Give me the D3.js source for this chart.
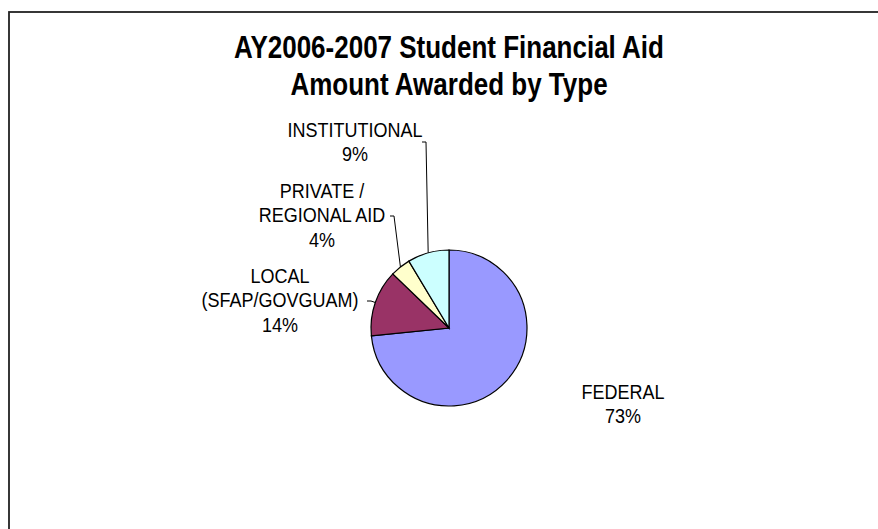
<!DOCTYPE html>
<html>
<head>
<meta charset="utf-8">
<script src="https://cdn.jsdelivr.net/npm/d3@7"></script>
<style>
  body { margin: 0; background: #fff; }
  svg { display: block; font-family: "Liberation Sans", Arial, sans-serif; }
</style>
</head>
<body>
<svg id="chart"></svg>
<script>
// --- data ---
const categories = ["FEDERAL", "LOCAL (SFAP/GOVGUAM)", "PRIVATE / REGIONAL AID", "INSTITUTIONAL"];
const labelLines = [["FEDERAL"], ["LOCAL", "(SFAP/GOVGUAM)"], ["PRIVATE /", "REGIONAL AID"], ["INSTITUTIONAL"]];
const shares = [73.4, 13.8, 4.2, 8.6];
const colors = ["#9999ff", "#993366", "#ffffcc", "#ccffff"];
const titleLines = ["AY2006-2007 Student Financial Aid", "Amount Awarded by Type"];

// --- layout ---
const width = 878, height = 529;
const cx = 449, cy = 328, radius = 78;
const lineGap = 24.5;
const textStretch = 1.1;   // the source font renders a bit taller than Arial
// label anchor (centre x, first baseline) relative to pie centre
const labelPos = [[174, 71], [-169, -45], [-127, -130], [-94, -191]];
// leader elbow relative to pie centre (null = no leader)
const elbows = [null, [-78, -27], [-55, -112], [-23, -186]];

const svg = d3.select("#chart").attr("width", width).attr("height", height);

// chart frame
svg.append("rect")
    .attr("x", 9).attr("y", 12)
    .attr("width", width + 20).attr("height", height + 20)
    .attr("fill", "#fff")
    .attr("stroke", "#222")
    .attr("stroke-width", 1.8);

// title
const title = svg.append("text")
    .attr("text-anchor", "middle")
    .attr("font-size", 26)
    .attr("font-weight", "bold")
    .attr("transform", "translate(449,58) scale(1,1.2)");
titleLines.forEach((s, k) => {
    title.append("tspan").attr("x", 0).attr("y", k * 37 / 1.2).text(s);
});

const pie = d3.pie().sort(null).value(d => d);
const arcs = pie(shares);
const arc = d3.arc().innerRadius(0).outerRadius(radius);

const g = svg.append("g").attr("transform", `translate(${cx},${cy})`);

g.selectAll("path.slice")
    .data(arcs)
    .enter()
    .append("path")
    .attr("class", "slice")
    .attr("d", arc)
    .attr("fill", (d, i) => colors[i])
    .attr("stroke", "#000")
    .attr("stroke-width", 1.2);

// leader lines
g.selectAll("path.leader")
    .data(arcs.filter((d, i) => elbows[i]))
    .enter()
    .append("path")
    .attr("class", "leader")
    .attr("fill", "none")
    .attr("stroke", "#000")
    .attr("stroke-width", 1)
    .attr("d", d => {
        const e = elbows[d.index];
        const mid = (d.startAngle + d.endAngle) / 2;
        const px = radius * Math.sin(mid), py = -radius * Math.cos(mid);
        return d3.line()([[e[0] - 4, e[1]], e, [px, py]]);
    });

// labels
const labels = g.selectAll("text.label")
    .data(arcs)
    .enter()
    .append("text")
    .attr("class", "label")
    .attr("text-anchor", "middle")
    .attr("font-size", 18)
    .attr("fill", "#000")
    .attr("transform", (d, i) => `translate(${labelPos[i][0]},${labelPos[i][1]}) scale(1,${textStretch})`);

labels.each(function(d, i) {
    const t = d3.select(this);
    const lines = labelLines[i].concat([Math.round(shares[i]) + "%"]);
    lines.forEach((s, k) => {
        t.append("tspan")
            .attr("x", 0)
            .attr("y", k * lineGap / textStretch)
            .text(s);
    });
});
</script>
</body>
</html>
